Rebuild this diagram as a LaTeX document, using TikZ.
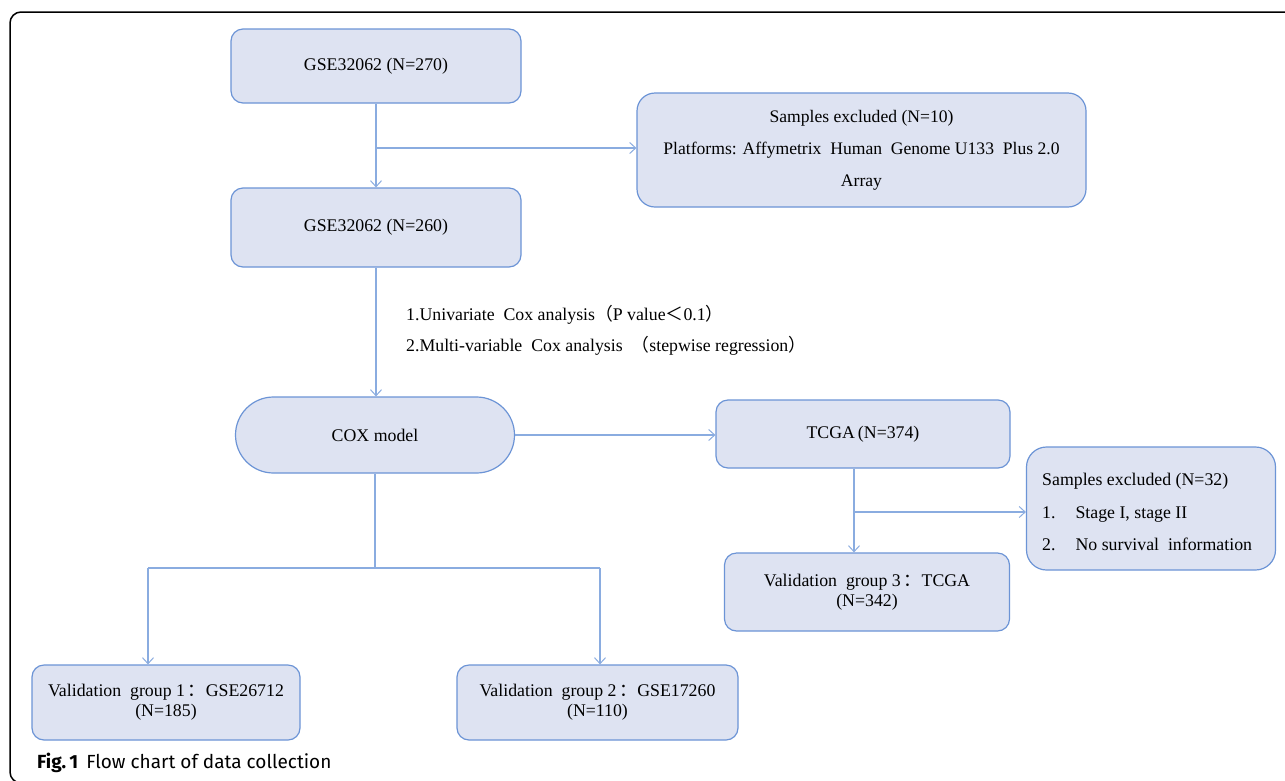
\documentclass[tikz,border=0pt]{standalone}
\usepackage{fontspec}
\setmainfont{Liberation Serif}
\newfontfamily\cjk{Noto Sans CJK SC}
\newfontfamily\capfont{Fira Sans}
\usetikzlibrary{arrows.meta,positioning,calc}
\definecolor{boxfill}{RGB}{222,227,242}
\definecolor{boxline}{RGB}{108,148,214}
\definecolor{arrline}{RGB}{138,172,224}
\newcommand{\fw}[1]{{\cjk #1}}
\tikzset{
  box/.style={draw=boxline, fill=boxfill, line width=1.2pt, rounded corners=12pt,
    inner sep=0pt, align=center, font=\fontsize{17.8}{20}\selectfont},
  conn/.style={draw=arrline, line width=1.2pt},
  arr/.style={conn, -{Straight Barb[length=6pt,width=11pt,line width=1pt]}},
}
\begin{document}
\begin{tikzpicture}[x=1pt,y=-1pt]
\useasboundingbox (0,0) rectangle (1285,780);
\fill[white] (0,0) rectangle (1285,780);
\draw[black, line width=1.5pt, rounded corners=11pt] (10,12) rectangle (1320,783);

\node[box, minimum width=290pt, minimum height=74pt] (A) at (376,66) {GSE32062 (N=270)};
\node[box, minimum width=290pt, minimum height=79pt] (B) at (376,227.5) {GSE32062 (N=260)};
\node[box, minimum width=449pt, minimum height=114pt, rounded corners=18pt,
  font=\fontsize{17.6}{32}\selectfont] (C) at (861.5,150)
  {Samples excluded (N=10)\\Platforms: Affymetrix\ \ Human\ \ Genome U133\ \ Plus 2.0\\Array};
\node[box, minimum width=279pt, minimum height=76pt, rounded corners=38pt] (COX) at (375,435) {COX model};
\node[box, minimum width=294pt, minimum height=68pt] (T) at (863,434) {TCGA\,(N=374)};
\node[box, minimum width=249pt, minimum height=123pt, rounded corners=20pt] (S) at (1151,508.5) {};
\node[anchor=west, inner sep=0pt, align=left, font=\fontsize{17.8}{32.5}\selectfont] (Stxt) at (1042,512)
  {Samples excluded (N=32)\\1.\hspace{20pt}Stage I, stage II\\2.\hspace{20pt}No survival\ \ information};
\node[box, minimum width=285pt, minimum height=78pt] (V3) at (867,592)
  {Validation\ \ group 3\,\fw{：}TCGA\\(N=342)};
\node[box, minimum width=268pt, minimum height=75pt] (V1) at (166,702.5)
  {Validation\ \ group 1\,\fw{：}GSE26712\\(N=185)};
\node[box, minimum width=281pt, minimum height=75pt] (V2) at (597.5,702.5)
  {Validation\ \ group 2\,\fw{：}GSE17260\\(N=110)};

\node[anchor=west, inner sep=0pt, align=left, font=\fontsize{17.8}{31}\selectfont] (cond) at (406,330)
  {1.Univariate\ \ Cox analysis\fw{（}P value\fw{＜}0.1\fw{）}\\2.Multi-variable\ \ Cox analysis\ \ \fw{（}stepwise regression\fw{）}};

\node[anchor=base west, inner sep=0pt, font=\capfont\fontsize{19}{22}\selectfont] (cap) at (37,768)
  {\textbf{Fig.\,1}\hspace{8pt}Flow chart of data collection};

% connectors
\coordinate (j1) at (376,148);
\draw[arr] (A.south) -- (B.north);
\draw[arr] (j1) -- (j1 -| C.west);
\draw[arr] (B.south) -- (B.south |- COX.north);
\draw[arr] (COX.east) -- (COX.east -| T.west);
\coordinate (tx) at (854,512);
\draw[arr] (tx |- T.south) -- (tx |- V3.north);
\draw[arr] (tx) -- (tx -| S.west);
\coordinate (j3) at (375,568);
\coordinate (l1) at (148,568);
\coordinate (l2) at (600,568);
\draw[conn] (COX.south) -- (j3);
\draw[conn] (l1) -- (l2);
\draw[arr] (l1) -- (l1 |- V1.north);
\draw[arr] (l2) -- (l2 |- V2.north);
\end{tikzpicture}
\end{document}
